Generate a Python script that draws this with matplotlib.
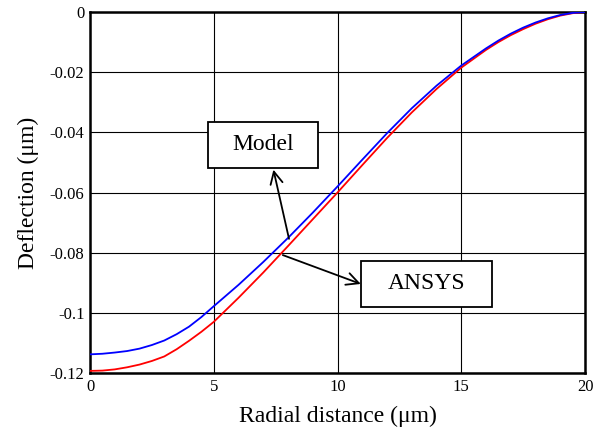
import matplotlib.pyplot as plt
from matplotlib.patches import Rectangle

# ---------------- data ----------------
radius = [0, 0.5, 1, 1.5, 2, 2.5, 3, 3.5, 4, 4.5, 5, 6, 7, 8, 9, 10,
          11, 12, 13, 14, 15, 16, 16.5, 17, 17.5, 18, 18.5, 19, 19.5, 20]
model = [-0.1138, -0.1136, -0.1132, -0.1127, -0.1119, -0.1107, -0.1092,
         -0.1071, -0.1046, -0.1014, -0.0978, -0.0907, -0.0831, -0.0751,
         -0.0667, -0.0580, -0.0491, -0.0403, -0.0320, -0.0245, -0.0178,
         -0.0121, -0.0095, -0.0072, -0.0052, -0.0035, -0.0021, -0.0010,
         -0.0003, 0.0]
ansys = [-0.1193, -0.1192, -0.1188, -0.1181, -0.1172, -0.1160, -0.1145,
         -0.1121, -0.1093, -0.1063, -0.1030, -0.0950, -0.0866, -0.0778,
         -0.0689, -0.0600, -0.0509, -0.0419, -0.0334, -0.0256, -0.0185,
         -0.0126, -0.0100, -0.0077, -0.0057, -0.0039, -0.0024, -0.0012,
         -0.0004, 0.0]
xticks = [0, 5, 10, 15, 20]
yticks = [0, -0.02, -0.04, -0.06, -0.08, -0.1, -0.12]
yticklabels = ["0", "-0.02", "-0.04", "-0.06", "-0.08", "-0.1", "-0.12"]

plt.rcParams['font.family'] = ['Liberation Serif', 'DejaVu Serif']

fig = plt.figure(figsize=(5.95, 4.38), dpi=100)
ax = fig.add_axes([0.1513, 0.1484, 0.8319, 0.8242])

ax.plot(radius, ansys, color='red', lw=1.3, zorder=3)
ax.plot(radius, model, color='blue', lw=1.3, zorder=4)

ax.set_xlim(0, 20)
ax.set_ylim(-0.12, 0)
ax.set_xticks(xticks)
ax.set_yticks(yticks)
ax.set_yticklabels(yticklabels)
ax.tick_params(length=0, labelsize=12, pad=4)
ax.grid(True, color='black', lw=0.8)
for s in ax.spines.values():
    s.set_linewidth(1.8)

ax.set_xlabel("Radial distance (μm)", fontsize=17, labelpad=8)
ax.set_ylabel("Deflection (μm)", fontsize=17, labelpad=8)

# ---------------- annotation boxes ----------------
def label_box(x0, y0, x1, y1, text):
    ax.add_patch(Rectangle((x0, y0), x1 - x0, y1 - y0, facecolor='white',
                           edgecolor='black', lw=1.3, zorder=5))
    ax.text((x0 + x1) / 2, (y0 + y1) / 2, text, fontsize=17,
            ha='center', va='center', zorder=6)

label_box(4.78, -0.0518, 9.20, -0.0366, "Model")
label_box(10.95, -0.0980, 16.24, -0.0827, "ANSYS")

arrow = dict(arrowstyle='->', lw=1.3, color='black',
             mutation_scale=22, shrinkA=0, shrinkB=0)
ax.annotate("", xy=(7.41, -0.0524), xytext=(8.04, -0.0754),
            arrowprops=arrow, zorder=7)
ax.annotate("", xy=(10.94, -0.0904), xytext=(7.79, -0.0808),
            arrowprops=arrow, zorder=7)

fig.savefig("out.png", dpi=100)
